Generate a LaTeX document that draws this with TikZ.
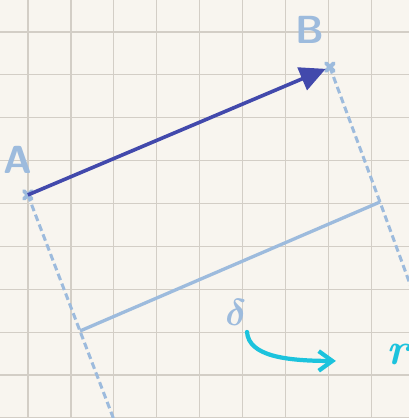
\documentclass[tikz,border=0pt]{standalone}
\usepackage{amsmath,amssymb}
\usepackage{tikz}
\usetikzlibrary{calc,positioning,arrows.meta}

\begin{document}
\begin{tikzpicture}[
    gridline/.style={gridCol, line width=0.9pt},
    projline/.style={lightCol, line width=2pt, dash pattern=on 4.5pt off 2.5pt},
    pointmark/.style={lightCol, line width=2.6pt, line cap=round},
    hand/.style={lightCol, font=\sffamily\bfseries\fontsize{26}{26}\selectfont, inner sep=0pt}
]
            \definecolor{paperCol}{HTML}{F8F5EF}
            \definecolor{gridCol}{HTML}{D3CEC6}
            \definecolor{vecCol}{HTML}{4249AC}
            \definecolor{lightCol}{HTML}{9DBBDD}
            \definecolor{cyanCol}{HTML}{1CC3DD}

            \useasboundingbox (0,0) rectangle (9.534,9.744);
            \clip (0,0) rectangle (9.534,9.744);
            \fill[paperCol] (0,0) rectangle (9.534,9.744);
            \foreach \x in {0,...,8} \draw[gridline] (0.653+\x,0) -- (0.653+\x,9.744);
            \foreach \y in {0,...,9} \draw[gridline] (0,\y) -- (9.534,\y);

            \coordinate (A) at (0.65,5.2);
            \coordinate (B) at (7.69,8.18);
            \coordinate (Afoot) at (1.865,2.028);
            \coordinate (Bfoot) at (8.858,5.035);
            \coordinate (Aend) at (2.66,-0.05);
            \coordinate (Bend) at (9.62,2.95);
            \coordinate (Sstart) at (5.758,2.005);
            \coordinate (Send) at (7.83,1.33);

            \draw[projline] (A) -- (Afoot) -- (Aend);
            \draw[projline] (B) -- (Bfoot) -- (Bend);
            \draw[lightCol, line width=2.2pt] (Afoot) -- (Bfoot);

            \foreach \p in {A,B} {
                \draw[pointmark] ($(\p)+(-0.09,-0.09)$) -- ($(\p)+(0.09,0.09)$);
                \draw[pointmark] ($(\p)+(-0.09,0.09)$) -- ($(\p)+(0.09,-0.09)$);
            }

            \draw[vecCol, line width=2.4pt, shorten >=3pt, -{Triangle[length=17pt,width=16pt]}] (A) -- (B);

            \node[hand] (labA) at (0.42,6.01) {A};
            \node[hand] (labB) at (7.23,9.04) {B};
            \node[hand] (labS) at (5.50,2.47) {$\boldsymbol{\delta}$};

            \draw[cyanCol, line width=2.8pt, line cap=round, -{Straight Barb[length=9pt,width=13pt]}]
                (Sstart) .. controls (5.80,1.45) and (6.64,1.33) .. (Send);
            \node[cyanCol, font=\fontsize{30}{30}\selectfont\itshape\bfseries, inner sep=0pt, anchor=west] (labR) at (9.0,1.48) {r};
        \end{tikzpicture}
\end{document}
